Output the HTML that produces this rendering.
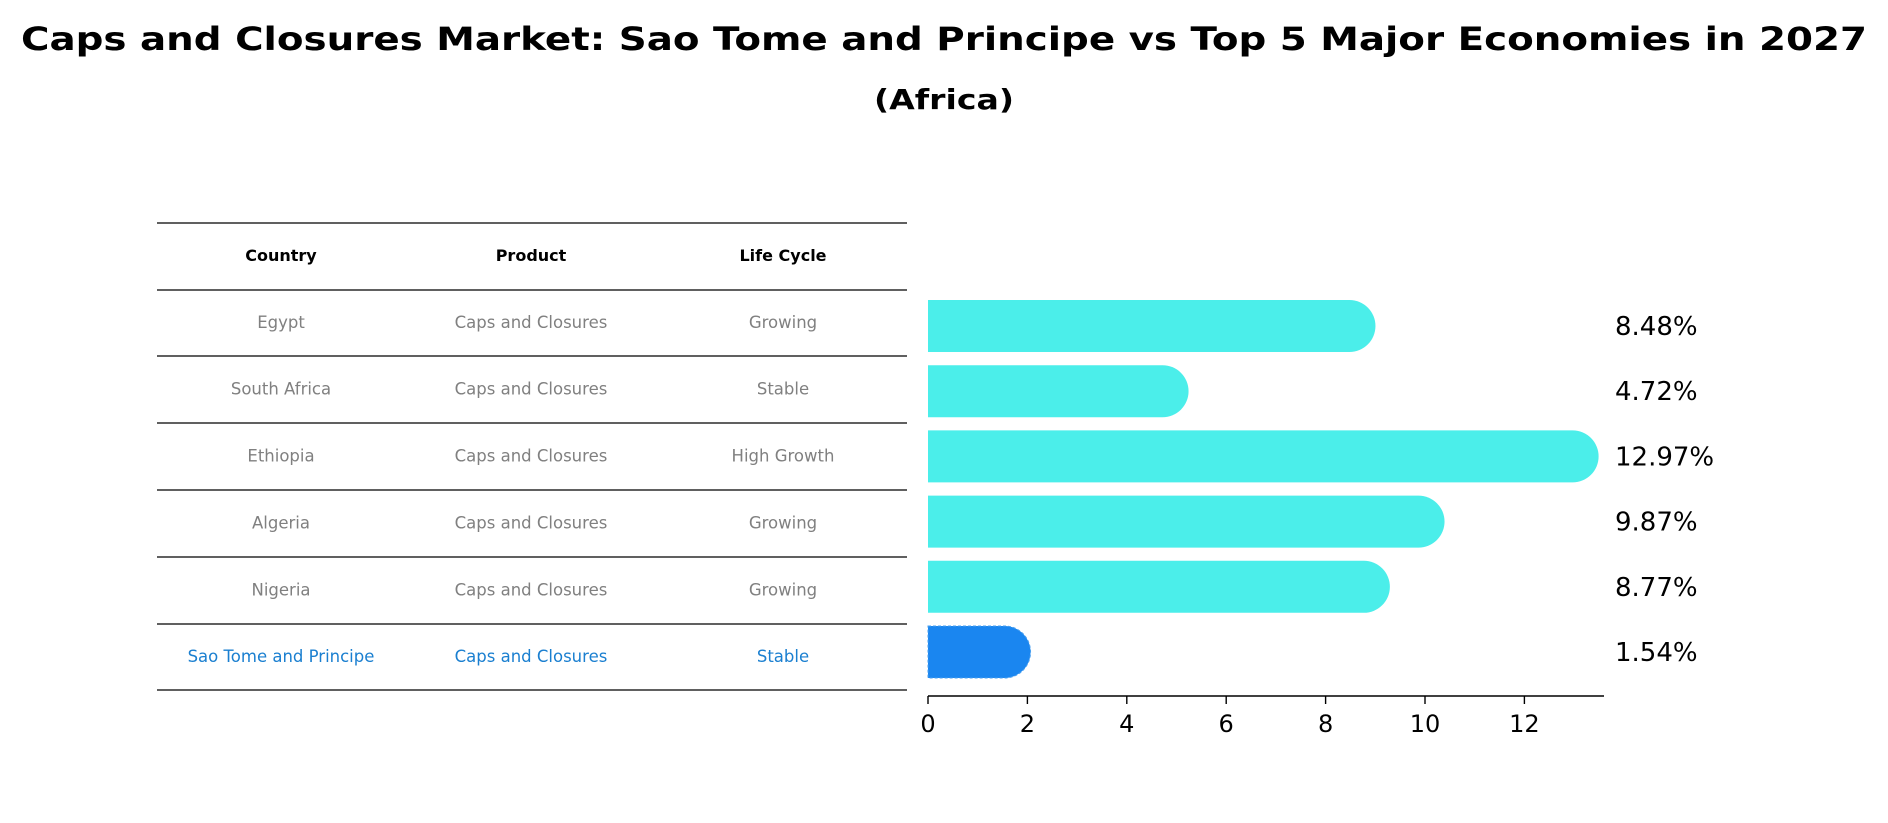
<!DOCTYPE html>
<html><head><meta charset="utf-8"><style>
body{margin:0;background:#fff;}
svg{display:block;font-family:"DejaVu Sans","Liberation Sans",sans-serif;}
</style></head><body>
<svg id="chart" width="1888" height="823" viewBox="0 0 1888 823" xmlns="http://www.w3.org/2000/svg">
<text x="944" y="50" text-anchor="middle" font-size="32" font-weight="bold" textLength="1846" lengthAdjust="spacingAndGlyphs">Caps and Closures Market: Sao Tome and Principe vs Top 5 Major Economies in 2027</text>
<text x="944" y="109" text-anchor="middle" font-size="28" font-weight="bold" textLength="140" lengthAdjust="spacingAndGlyphs">(Africa)</text>
<g id="table"></g>
<g id="bars"></g>
<g id="axis"></g>
</svg>
<script>
const countries=["Egypt","South Africa","Ethiopia","Algeria","Nigeria","Sao Tome and Principe"];
const products=["Caps and Closures","Caps and Closures","Caps and Closures","Caps and Closures","Caps and Closures","Caps and Closures"];
const lifeCycles=["Growing","Stable","High Growth","Growing","Growing","Stable"];
const values=[8.48,4.72,12.97,9.87,8.77,1.54];
const ticks=[0,2,4,6,8,10,12];
const NS="http://www.w3.org/2000/svg";
const x0=928,ppu=49.7,axisEnd=1604,axisY=696;
const xs=v=>x0+v*ppu;
const rowY=i=>326+i*65.2;
const barH=52;
function mk(tag,attrs,parent){const e=document.createElementNS(NS,tag);for(const k in attrs)e.setAttribute(k,attrs[k]);parent.appendChild(e);return e;}
const tbl=document.getElementById('table');
const lines=[223,290,356,423,490,557,624,690];
lines.forEach(y=>{const l=mk('line',{x1:157,x2:907,y1:y,y2:y,stroke:'#000','stroke-width':1.2},tbl);

});
const cols=[281,531,783];
["Country","Product","Life Cycle"].forEach((h,j)=>{const t=mk('text',{x:cols[j],y:261,'text-anchor':'middle','font-size':16,'font-weight':'bold'},tbl);t.textContent=h;

});
countries.forEach((c,i)=>{const y=(lines[i+1]+lines[i+2])/2+5;const col=i===5?'#1a7fd0':'#808080';
[c,products[i],lifeCycles[i]].forEach((s,j)=>{const t=mk('text',{x:cols[j],y:y,'text-anchor':'middle','font-size':16.5,fill:col},tbl);t.textContent=s;

});});
const bars=document.getElementById('bars');
values.forEach((v,i)=>{const cy=rowY(i),r=barH/2,xe=xs(v);const last=i===5;
const p=mk('path',{d:`M${x0} ${cy-r} L${xe} ${cy-r} A${r} ${r} 0 0 1 ${xe} ${cy+r} L${x0} ${cy+r} Z`,fill:last?'#1a86f0':'#4beeea',stroke:last?'#4aa0f0':'none','stroke-dasharray':last?'3 2':'none'},bars);


const t=mk('text',{x:1615,y:cy+9,'font-size':26},bars);t.textContent=v.toFixed(2)+'%';

});
const ax=document.getElementById('axis');
const al=mk('line',{x1:x0,x2:axisEnd,y1:axisY,y2:axisY,stroke:'#000','stroke-width':1.6},ax);


ticks.forEach(tv=>{const x=xs(tv);const tk=mk('line',{x1:x,x2:x,y1:axisY,y2:axisY+8,stroke:'#000','stroke-width':1.4},ax);


const t=mk('text',{x:x,y:axisY+36,'text-anchor':'middle','font-size':24},ax);t.textContent=tv;

});
</script>
</body></html>
